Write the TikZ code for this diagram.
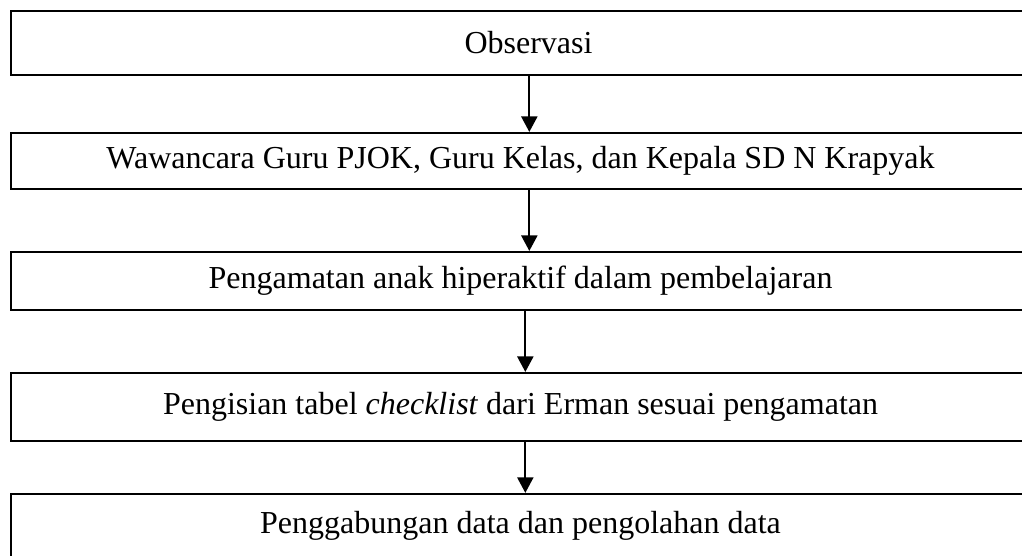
\documentclass[tikz,border=0pt]{standalone}
\usepackage{fontspec}
\setmainfont{Liberation Serif}
\usetikzlibrary{arrows.meta, positioning}
\tikzstyle{process} = [rectangle, minimum width=382pt, inner sep=0pt, text centered, draw=black, line width=0.75pt]
\tikzstyle{arrow} = [line width=0.75pt, -{Triangle[length=5.8pt, width=6pt]}]

\begin{document}
\begin{tikzpicture}[node distance=45pt, font=\fontsize{12}{14}\selectfont]
\useasboundingbox (0,0) rectangle (383.25pt,-208.125pt);
% Nodes
\node (obs) [process, minimum height=24pt] at (195.2pt,-16.1pt) {\hspace*{6pt}Observasi};
\node (wawancara) [process, minimum height=21pt, below of=obs, yshift=0.75pt] {Wawancara Guru PJOK, Guru Kelas, dan Kepala SD N Krapyak};
\node (pengamatan) [process, minimum height=21.75pt, below of=wawancara] {Pengamatan anak hiperaktif dalam pembelajaran};
\node (checklist) [process, minimum height=25.5pt, below of=pengamatan, yshift=-2.25pt] {Pengisian tabel \textit{checklist} dari Erman sesuai pengamatan};
\node (olah) [process, minimum height=24pt, below of=checklist, yshift=0.4pt] {Penggabungan data dan pengolahan data};

% Arrows
\draw [arrow] ([xshift=3.3pt]obs.south) -- ([xshift=3.3pt]wawancara.north);
\draw [arrow] ([xshift=3.3pt]wawancara.south) -- ([xshift=3.3pt]pengamatan.north);
\draw [arrow] ([xshift=1.8pt]pengamatan.south) -- ([xshift=1.8pt]checklist.north);
\draw [arrow] ([xshift=1.8pt]checklist.south) -- ([xshift=1.8pt]olah.north);

\end{tikzpicture}
\end{document}
